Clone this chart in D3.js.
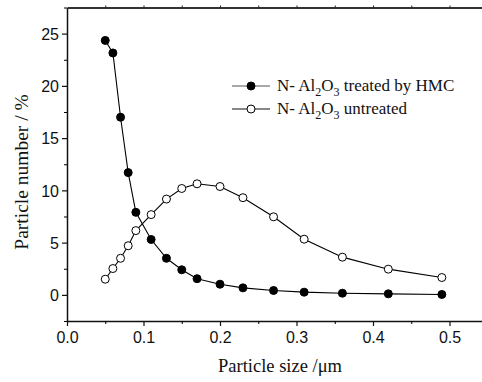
<!DOCTYPE html>
<html>
<head>
<meta charset="utf-8">
<script src="https://cdn.jsdelivr.net/npm/d3@7"></script>
<style>
  html, body { margin: 0; padding: 0; background: #fff; overflow: hidden; }
  svg { display: block; }
</style>
</head>
<body>
<div id="chart"></div>
<script>
// particle size (um)
const sizes = [0.05, 0.06, 0.07, 0.08, 0.09, 0.11, 0.13, 0.15, 0.17, 0.20, 0.23, 0.27, 0.31, 0.36, 0.42, 0.49];
// particle number (%)
const treatedHMC = [24.35, 23.15, 17.0, 11.7, 7.9, 5.3, 3.5, 2.4, 1.55, 1.02, 0.67, 0.42, 0.26, 0.16, 0.1, 0.04];
const untreated = [1.5, 2.52, 3.5, 4.7, 6.15, 7.68, 9.17, 10.18, 10.63, 10.37, 9.3, 7.47, 5.33, 3.61, 2.46, 1.66];

const xTicks = [0.0, 0.1, 0.2, 0.3, 0.4, 0.5];
const yTicks = [0, 5, 10, 15, 20, 25];

const seriesList = [
    { key: "treated", values: treatedHMC, fill: "#000", legendLine: "#555", label: " treated by HMC" },
    { key: "untreated", values: untreated, fill: "#fff", legendLine: "#111", label: " untreated" }
];

const width = 482, height = 382;
const margin = { top: 7.5, left: 67, bottom: 321 };
const plotRight = 67 + 0.55 * 765; // frame runs past the window edge

const svg = d3.select("#chart").append("svg")
    .attr("width", width)
    .attr("height", height);

const x = d3.scaleLinear().domain([0, 0.55]).range([margin.left, plotRight]);
const y = d3.scaleLinear().domain([-2.5, 27.5]).range([margin.bottom, margin.top]);

const tickFont = "'Liberation Sans', Arial, sans-serif";
const serif = "'Liberation Serif', 'Times New Roman', serif";

// -- Axes --
const xAxis = svg.append("g")
    .attr("transform", `translate(0,${margin.bottom})`)
    .call(d3.axisBottom(x).tickValues(xTicks).tickFormat(d3.format(".1f")).tickSize(5).tickSizeOuter(0));
// minor x ticks
svg.append("g")
    .attr("transform", `translate(0,${margin.bottom})`)
    .call(d3.axisBottom(x).tickValues([0.05, 0.15, 0.25, 0.35, 0.45]).tickFormat("").tickSize(3).tickSizeOuter(0))
    .call(g => g.select(".domain").remove());

const yAxis = svg.append("g")
    .attr("transform", `translate(${margin.left},0)`)
    .call(d3.axisLeft(y).tickValues(yTicks).tickSize(5).tickSizeOuter(0));
// minor y ticks
svg.append("g")
    .attr("transform", `translate(${margin.left},0)`)
    .call(d3.axisLeft(y).tickValues([-2.5, 2.5, 7.5, 12.5, 17.5, 22.5, 27.5]).tickFormat("").tickSize(3).tickSizeOuter(0))
    .call(g => g.select(".domain").remove());

// top border with small ticks
svg.append("g")
    .attr("transform", `translate(0,${margin.top})`)
    .call(d3.axisTop(x).tickValues(d3.range(0.05, 0.55, 0.05)).tickFormat("").tickSize(2).tickSizeOuter(0))
    .call(g => g.select(".domain").attr("stroke", "#333").attr("stroke-width", 2.2))
    .call(g => g.selectAll(".tick line").attr("stroke", "#222"));

[xAxis, yAxis].forEach(g => {
    g.select(".domain").attr("stroke", "#111").attr("stroke-width", 1.5);
    g.selectAll(".tick line").attr("stroke", "#111").attr("stroke-width", 1.2);
    g.selectAll(".tick text")
        .attr("fill", "#111")
        .style("font-family", tickFont)
        .style("font-size", "16px");
});
xAxis.selectAll(".tick text").attr("dy", null).attr("y", 22);
yAxis.selectAll(".tick text").attr("x", -8).attr("dy", "0.36em");

// -- Axis titles --
svg.append("text")
    .attr("x", 280).attr("y", 372)
    .attr("text-anchor", "middle")
    .style("font-family", serif).style("font-size", "18.5px").attr("fill", "#111")
    .text("Particle size /\u03bcm");

svg.append("text")
    .attr("transform", "translate(28,172) rotate(-90)")
    .attr("text-anchor", "middle")
    .style("font-family", serif).style("font-size", "19.5px").attr("fill", "#111")
    .text("Particle number / %");

// -- Series --
const line = d3.line()
    .x((d, i) => x(sizes[i]))
    .y(d => y(d));

seriesList.forEach(s => {
    svg.append("path")
        .datum(s.values)
        .attr("d", line)
        .attr("fill", "none")
        .attr("stroke", "#000")
        .attr("stroke-width", 1.1);

    svg.append("g").selectAll("circle")
        .data(s.values)
        .join("circle")
        .attr("cx", (d, i) => x(sizes[i]))
        .attr("cy", d => y(d))
        .attr("r", 4)
        .attr("fill", s.fill)
        .attr("stroke", "#000")
        .attr("stroke-width", 1);
});

// -- Legend --
const legend = svg.append("g").attr("transform", "translate(232,86)");
seriesList.forEach((s, i) => {
    const row = legend.append("g").attr("transform", `translate(0,${i * 23})`);
    row.append("line")
        .attr("x1", 0).attr("x2", 38).attr("y1", 0).attr("y2", 0)
        .attr("stroke", s.legendLine).attr("stroke-width", 1.2);
    row.append("circle")
        .attr("cx", 19).attr("cy", 0).attr("r", 4)
        .attr("fill", s.fill).attr("stroke", "#000");
    const t = row.append("text")
        .attr("x", 45).attr("y", 5)
        .style("font-family", serif).style("font-size", "17px").attr("fill", "#111");
    t.append("tspan").text("N- Al");
    t.append("tspan").attr("dy", 5).style("font-size", "12px").text("2");
    t.append("tspan").attr("dy", -5).text("O");
    t.append("tspan").attr("dy", 5).style("font-size", "12px").text("3");
    t.append("tspan").attr("dy", -5).text(s.label);
});
</script>
</body>
</html>
